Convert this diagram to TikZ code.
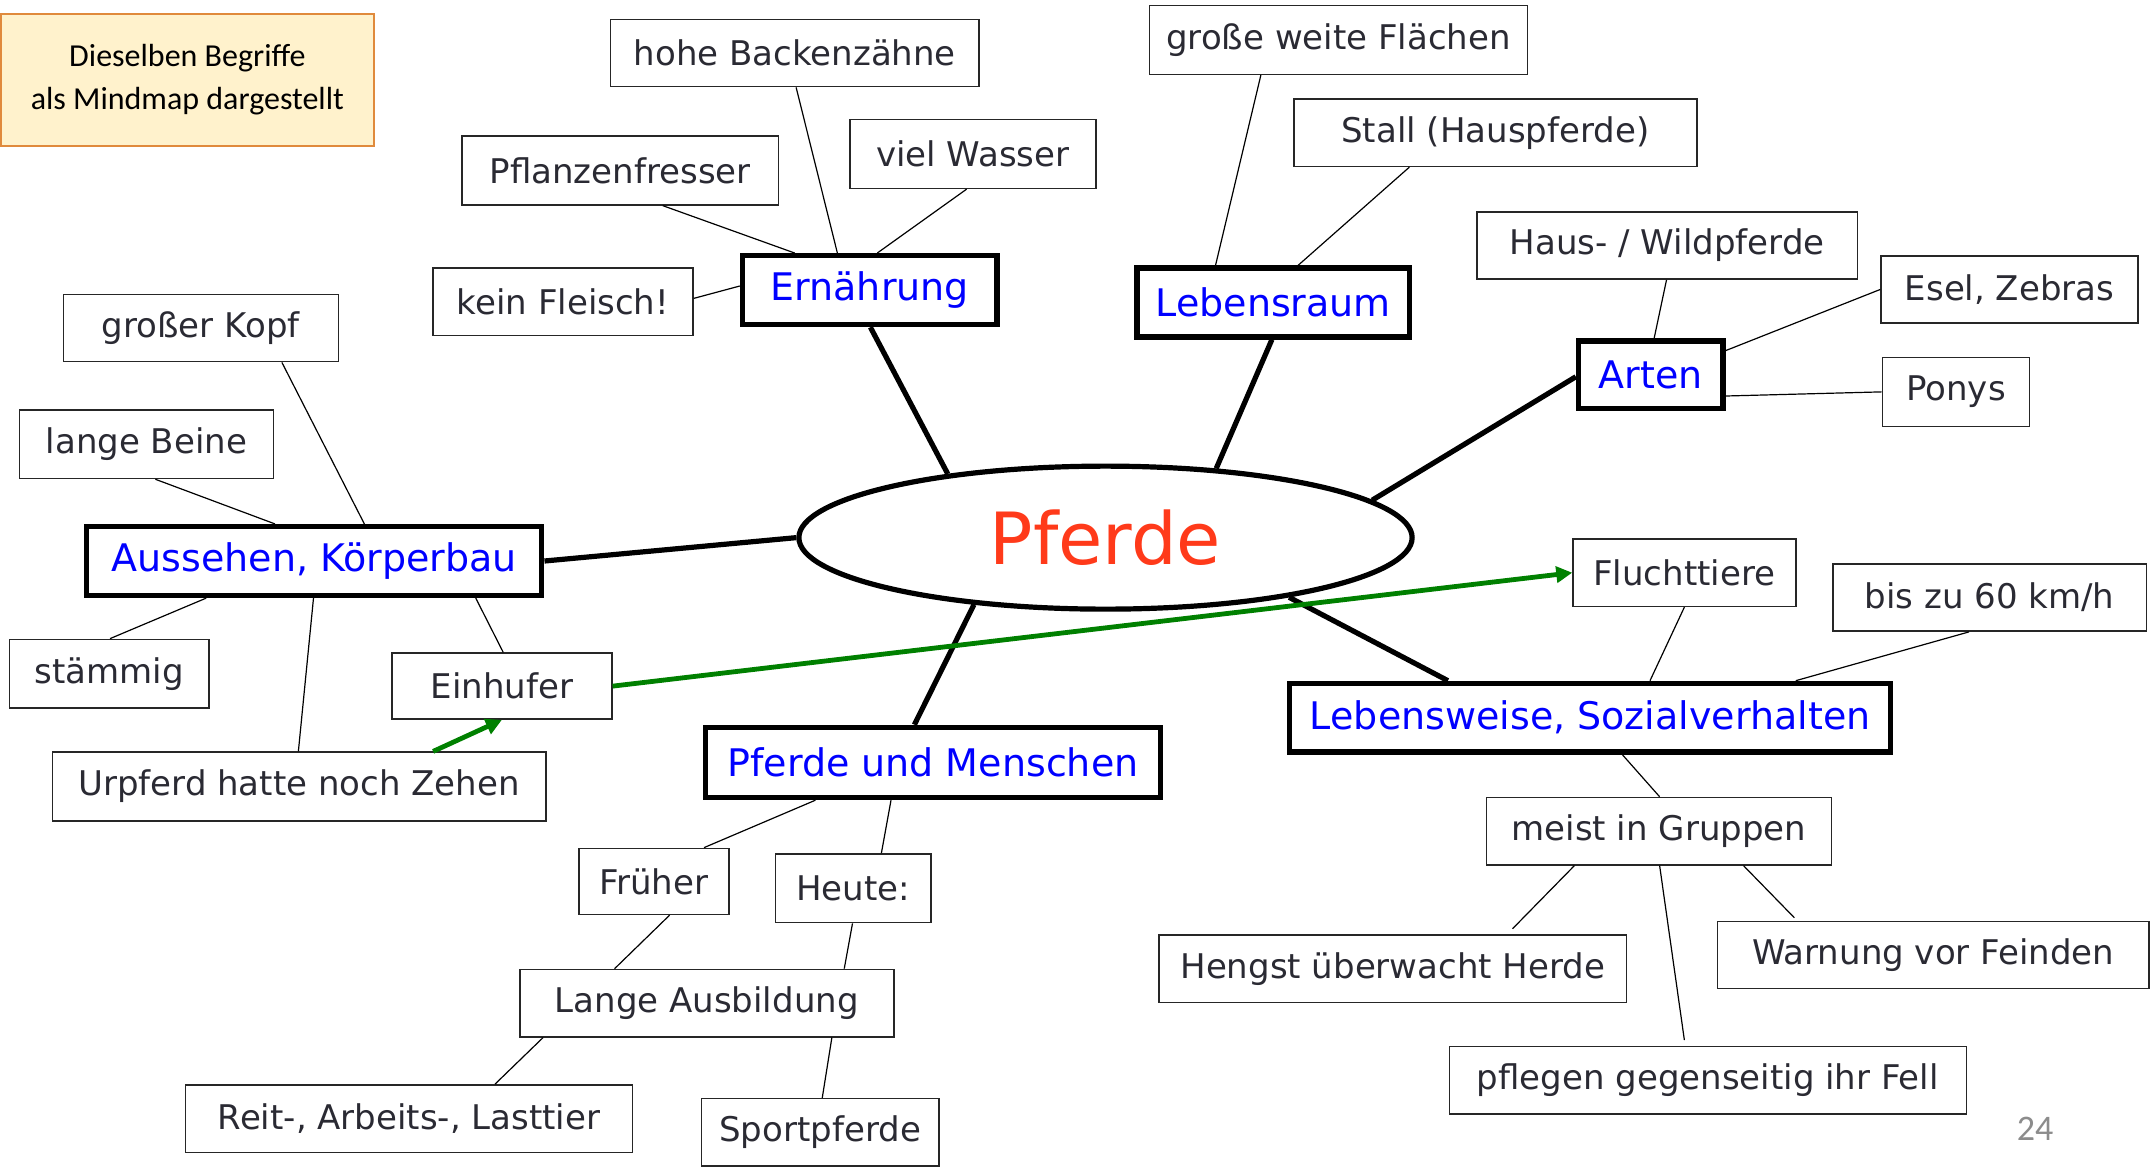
\documentclass[tikz,border=0pt]{standalone}
\usepackage{fontspec}
\setmainfont{DejaVu Sans}
\newfontfamily\notefont{Carlito}
\usetikzlibrary{shapes.geometric,arrows.meta,calc}
\definecolor{txt}{HTML}{2A2A33}
\definecolor{pred}{HTML}{FF3A1A}
\definecolor{agreen}{HTML}{008000}
\definecolor{notefill}{HTML}{FFF2CC}
\definecolor{noteborder}{HTML}{E08A3C}
\definecolor{pagegray}{HTML}{8C8C8C}
\def\pxu{0.6875pt}
\newcommand\bnode[7]{\node[#1,minimum width={(#4-#2)*\pxu},minimum height={(#5-#3)*\pxu}] (#6) at ({(#2+#4)/2},{(#3+#5)/2}) {#7};}
\begin{document}
\begin{tikzpicture}[x=0.6875pt,y=-0.6875pt,
  leaf/.style={draw=black!85,line width=0.75pt,text=txt,font=\fontsize{17}{20}\selectfont,inner sep=1pt},
  topic/.style={draw=black,line width=2.7pt,text=blue,font=\fontsize{19}{22}\selectfont,inner sep=1pt},
  notebox/.style={draw=noteborder,fill=notefill,line width=1pt,align=center,text=black,font=\notefont\fontsize{16}{21.3}\selectfont,inner sep=1pt},
  thinc/.style={draw=black,line width=0.6pt},
  thickc/.style={draw=black,line width=2.6pt},
  greenarrow/.style={draw=agreen,line width=2.4pt,-{Triangle[length=8pt,width=8pt]}},
]
\useasboundingbox (0,0) rectangle (1568,849);

\bnode{notebox}{0.5}{10}{272}{106}{note}{Dieselben Begriffe\\als Mindmap dargestellt}
\bnode{leaf}{444}{14}{712}{63}{hbz}{hohe Backenzähne}
\bnode{leaf}{336}{99}{566}{149}{pfl}{Pflanzenfresser}
\bnode{leaf}{618}{87}{797}{137}{vw}{viel Wasser}
\bnode{leaf}{315}{195}{504}{244}{kf}{kein Fleisch!}
\bnode{topic}{540}{186}{725}{236}{ern}{Ernährung}
\bnode{leaf}{46}{214}{246}{263}{gk}{großer Kopf}
\bnode{leaf}{14}{298}{199}{348}{lb}{lange Beine}
\bnode{topic}{63}{383}{394}{433}{aus}{Aussehen, Körperbau}
\bnode{leaf}{836}{4}{1111}{54}{gwf}{große weite Flächen}
\bnode{leaf}{941}{72}{1234}{121}{stall}{Stall (Hauspferde)}
\bnode{topic}{827}{195}{1025}{245}{leb}{Lebensraum}
\bnode{leaf}{1074}{154}{1351}{203}{hw}{Haus- / Wildpferde}
\bnode{leaf}{1368}{186}{1555}{235}{esel}{Esel, Zebras}
\bnode{topic}{1148}{248}{1253}{297}{arten}{Arten}
\bnode{leaf}{1369}{260}{1476}{310}{ponys}{Ponys}
\bnode{leaf}{1144}{392}{1306}{441}{flucht}{Fluchttiere}
\bnode{leaf}{1333}{410}{1561}{459}{bis}{bis zu 60 km/h}
\bnode{topic}{938}{497}{1375}{547}{lw}{Lebensweise, Sozialverhalten}
\bnode{leaf}{1081}{580}{1332}{629}{meist}{meist in Gruppen}
\bnode{leaf}{843}{680}{1183}{729}{hengst}{Hengst überwacht Herde}
\bnode{leaf}{1249}{670}{1563}{719}{warn}{Warnung vor Feinden}
\bnode{leaf}{1054}{761}{1430}{810}{pflegen}{pflegen gegenseitig ihr Fell}
\bnode{leaf}{7}{465}{152}{515}{stamm}{stämmig}
\bnode{leaf}{285}{475}{445}{523}{einh}{Einhufer}
\bnode{leaf}{38}{547}{397}{597}{urpf}{Urpferd hatte noch Zehen}
\bnode{topic}{513}{529}{844}{580}{pum}{Pferde und Menschen}
\bnode{leaf}{421}{617}{530}{665}{frueh}{Früher}
\bnode{leaf}{564}{621}{677}{671}{heute}{Heute:}
\bnode{leaf}{378}{705}{650}{754}{lange}{Lange Ausbildung}
\bnode{leaf}{135}{789}{460}{838}{reit}{Reit-, Arbeits-, Lasttier}
\bnode{leaf}{510}{799}{683}{848}{sport}{Sportpferde}

\node[ellipse,draw=black,line width=2.6pt,fill=white,minimum width={446*\pxu},minimum height={104*\pxu},inner sep=0pt,text=pred,font=\fontsize{36}{40}\selectfont] (ell) at (804,391) {Pferde};

\node[font=\notefont\fontsize{18}{20}\selectfont,text=pagegray] (pnum) at (1480,821) {24};

% thin connectors
\draw[thinc] ([xshift=1*\pxu]hbz.south) -- ([xshift=-23.5*\pxu]ern.north);
\draw[thinc] ([xshift=31*\pxu]pfl.south) -- ([xshift=-54.5*\pxu]ern.north);
\draw[thinc] ([xshift=-4.5*\pxu]vw.south) -- ([xshift=5.5*\pxu]ern.north);
\draw[thinc] ([yshift=2.5*\pxu]kf.east) -- ([yshift=3*\pxu]ern.west);
\draw[thinc] ([xshift=59*\pxu]gk.south) -- ([xshift=36.5*\pxu]aus.north);
\draw[thinc] ([xshift=6.5*\pxu]lb.south) -- ([xshift=-28.5*\pxu]aus.north);
\draw[thinc] ([xshift=-78.5*\pxu]aus.south) -- ([xshift=0.5*\pxu]stamm.north);
\draw[thinc] ([xshift=-0.5*\pxu]aus.south) -- ([xshift=-0.5*\pxu]urpf.north);
\draw[thinc] ([xshift=117.5*\pxu]aus.south) -- ([xshift=1*\pxu]einh.north);
\draw[thinc] ([xshift=-56.5*\pxu]gwf.south) -- ([xshift=-42*\pxu]leb.north);
\draw[thinc] ([xshift=-62.5*\pxu]stall.south) -- ([xshift=18*\pxu]leb.north);
\draw[thinc] ([xshift=-0.5*\pxu]hw.south) -- ([xshift=2.5*\pxu]arten.north);
\draw[thinc] (esel.west) -- ([yshift=17.5*\pxu]arten.east);
\draw[thinc] (ponys.west) -- ([yshift=-15.5*\pxu]arten.east);
\draw[thinc] (flucht.south) -- ([xshift=43.5*\pxu]lw.north);
\draw[thinc] ([xshift=-15*\pxu]bis.south) -- ([xshift=149.5*\pxu]lw.north);
\draw[thinc] ([xshift=23.5*\pxu]lw.south) -- ([xshift=0.5*\pxu]meist.north);
\draw[thinc] ([xshift=-61.5*\pxu]meist.south) -- ([xshift=87*\pxu,yshift=4*\pxu]hengst.north);
\draw[thinc] ([xshift=0.5*\pxu]meist.south) -- ([xshift=-17*\pxu,yshift=4*\pxu]pflegen.north);
\draw[thinc] ([xshift=61.5*\pxu]meist.south) -- ([xshift=-101*\pxu,yshift=2*\pxu]warn.north);
\draw[thinc] ([xshift=-85.5*\pxu]pum.south) -- ([xshift=36.5*\pxu]frueh.north);
\draw[thinc] ([xshift=-30.5*\pxu]pum.south) -- ([xshift=20.5*\pxu]heute.north);
\draw[thinc] ([xshift=11.5*\pxu]frueh.south) -- ([xshift=-67*\pxu]lange.north);
\draw[thinc] ([xshift=-0.5*\pxu]heute.south) -- ([xshift=100*\pxu]lange.north);
\draw[thinc] ([xshift=-119*\pxu]lange.south) -- ([xshift=62.5*\pxu]reit.north);
\draw[thinc] ([xshift=91*\pxu]lange.south) -- ([xshift=1.5*\pxu]sport.north);

% thick connectors
\draw[thickc] (ell.158) -- ([xshift=0.5*\pxu]ern.south);
\draw[thickc] (ell.32) -- ([xshift=-1*\pxu]leb.south);
\draw[thickc] (ell.8) -- ([yshift=-1.5*\pxu]arten.west);
\draw[thickc] (ell.180) -- (aus.east);
\draw[thickc] (ell.207) -- ([xshift=-13.5*\pxu]pum.north);
\draw[thickc] (ell.342) -- ([xshift=-103.5*\pxu]lw.north);

% green arrows
\draw[greenarrow] ([xshift=97.5*\pxu]urpf.north) -- (einh.south);
\draw[greenarrow] (einh.east) -- (flucht.west);
\end{tikzpicture}
\end{document}
